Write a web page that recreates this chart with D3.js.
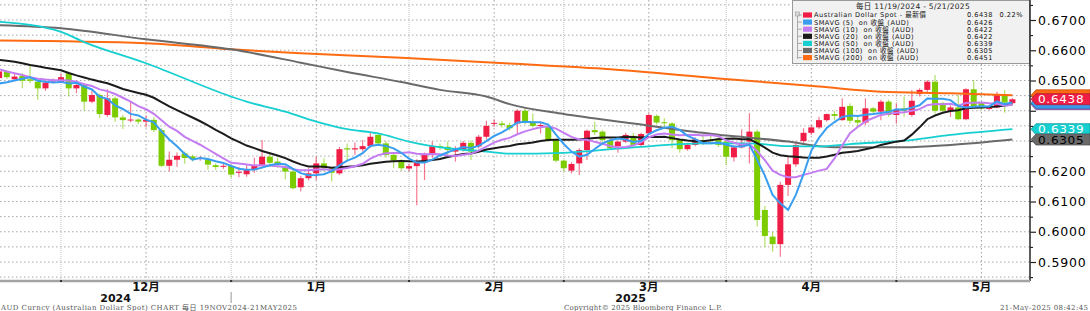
<html>
<head>
<script src="https://d3js.org/d3.v7.min.js"></script>
<style>
  body { margin: 0; background: #fff; }
  text { font-family: "DejaVu Sans", "Noto Sans CJK TC", sans-serif; }
  .foot { font-family: "DejaVu Serif", "Noto Sans CJK TC", serif; font-size: 7px; fill: #555; }
</style>
</head>
<body>
<svg id="chart" width="1090" height="311"></svg>
<script>
// daily candles, 19 Nov 2024 .. 21 May 2025 (weekdays)
const opens = [.6508,.6531,.6504,.6515,.6504,.6496,.6474,.6497,.6493,.6524,.6474,.6485,.6430,.6452,.6386,.6441,.6378,.6368,.6371,.6364,
  .6370,.6336,.6218,.6238,.6259,.6249,.6242,.6240,.6220,.6216,.6218,.6196,.6190,.6204,.6221,.6248,.6232,.6213,.6199,.6147,
  .6177,.6193,.6226,.6210,.6193,.6276,.6272,.6273,.6283,.6320,.6292,.6254,.6232,.6209,.6217,.6228,.6254,.6283,.6281,.6265,
  .6273,.6294,.6282,.6314,.6358,.6358,.6353,.6358,.6400,.6364,.6350,.6347,.6303,.6235,.6202,.6226,.6270,.6336,.6331,.6303,
  .6283,.6298,.6317,.6287,.6325,.6383,.6362,.6358,.6303,.6273,.6287,.6303,.6303,.6309,.6298,.6246,.6279,.6298,.6331,.6072,
  .5984,.5959,.6155,.6223,.6300,.6327,.6345,.6369,.6389,.6369,.6416,.6369,.6361,.6408,.6397,.6430,.6386,.6408,.6386,.6455,
  .6469,.6496,.6425,.6400,.6411,.6372,.6471,.6427,.6407,.6411,.6455,.6425];
const highs = [.6535,.6535,.6524,.6524,.6548,.6500,.6499,.6507,.6524,.6529,.6499,.6490,.6466,.6458,.6471,.6447,.6386,.6430,.6375,.6384,
  .6380,.6342,.6265,.6262,.6265,.6255,.6250,.6245,.6226,.6228,.6222,.6215,.6220,.6245,.6303,.6262,.6245,.6220,.6210,.6185,
  .6210,.6248,.6243,.6215,.6280,.6292,.6295,.6303,.6331,.6325,.6300,.6260,.6240,.6225,.6240,.6262,.6298,.6292,.6298,.6283,
  .6300,.6302,.6320,.6367,.6372,.6366,.6360,.6405,.6408,.6391,.6364,.6352,.6308,.6239,.6230,.6276,.6338,.6364,.6336,.6308,
  .6302,.6327,.6327,.6327,.6391,.6388,.6375,.6362,.6306,.6294,.6312,.6323,.6320,.6312,.6303,.6285,.6339,.6392,.6338,.6085,
  .6000,.6165,.6246,.6298,.6342,.6353,.6380,.6391,.6400,.6441,.6425,.6380,.6441,.6413,.6436,.6436,.6425,.6447,.6469,.6474,
  .6502,.6518,.6430,.6418,.6452,.6474,.6502,.6430,.6418,.6463,.6469,.6441];
const lows = [.6500,.6505,.6500,.6474,.6491,.6436,.6466,.6491,.6491,.6447,.6458,.6400,.6425,.6375,.6380,.6364,.6340,.6362,.6355,.6345,
  .6330,.6214,.6200,.6215,.6225,.6232,.6235,.6205,.6205,.6208,.6178,.6180,.6182,.6195,.6215,.6215,.6212,.6173,.6140,.6133,
  .6170,.6171,.6199,.6166,.6188,.6232,.6254,.6265,.6278,.6285,.6245,.6210,.6202,.6200,.6088,.6171,.6245,.6270,.6248,.6232,
  .6265,.6237,.6275,.6305,.6347,.6345,.6335,.6325,.6355,.6345,.6325,.6298,.6230,.6199,.6193,.6188,.6237,.6320,.6298,.6270,
  .6261,.6294,.6283,.6283,.6320,.6355,.6347,.6276,.6261,.6268,.6283,.6287,.6290,.6280,.6221,.6232,.6275,.6226,.6017,.5950,
  .5934,.5917,.6118,.6215,.6287,.6320,.6340,.6364,.6369,.6367,.6358,.6347,.6353,.6391,.6369,.6380,.6358,.6380,.6380,.6447,
  .6455,.6391,.6391,.6380,.6369,.6369,.6408,.6405,.6402,.6408,.6393,.6422];
const closes = [.6530,.6511,.6513,.6499,.6499,.6474,.6493,.6500,.6511,.6474,.6485,.6430,.6452,.6389,.6441,.6378,.6369,.6371,.6364,.6370,
  .6336,.6218,.6238,.6251,.6244,.6240,.6244,.6222,.6214,.6218,.6189,.6198,.6204,.6221,.6248,.6228,.6221,.6199,.6144,.6177,
  .6193,.6226,.6210,.6195,.6273,.6272,.6276,.6283,.6314,.6292,.6254,.6235,.6210,.6217,.6228,.6254,.6283,.6279,.6270,.6276,
  .6294,.6265,.6314,.6350,.6360,.6353,.6342,.6400,.6364,.6350,.6353,.6303,.6235,.6210,.6224,.6270,.6334,.6329,.6303,.6276,
  .6298,.6320,.6287,.6323,.6386,.6361,.6361,.6303,.6273,.6287,.6306,.6294,.6302,.6287,.6248,.6279,.6294,.6331,.6039,.5986,
  .5959,.6155,.6223,.6287,.6327,.6345,.6369,.6389,.6383,.6413,.6367,.6361,.6408,.6397,.6430,.6386,.6403,.6400,.6433,.6469,
  .6496,.6400,.6400,.6411,.6372,.6471,.6411,.6408,.6409,.6455,.6427,.6438];

// short averages before enough closes exist inside the window
const sma5Lead = [.6490,.6494,.6500,.6506];
const sma10Lead = [.6537,.6530,.6524,.6518,.6511,.6506,.6503,.6501,.6501];
const sma20Lead = [.6568,.6565,.6562,.6557,.6551,.6547,.6542,.6538,.6534,.6525,.6517,.6510,.6503,.6497,.6491,.6482,.6472,.6465,.6459];

// long averages, read at sample days
const sma50Days = [0,8,11,19,30,32,37,41,45,49,53,58,63,66,73,82,91,97,102,106,110,117,123,131];
const sma50Vals = [.6694,.6661,.6627,.6557,.6447,.6430,.6397,.6364,.6339,.6325,.6298,.6276,.6265,.6258,.6261,.6279,.6292,.6292,.6283,.6282,.6290,.6301,.6320,.6339];
const sma100Days = [0,8,19,30,39,45,52,57,63,66,73,82,91,93,97,102,106,110,117,123,131];
const sma100Vals = [.6683,.6673,.6636,.6603,.6559,.6528,.6495,.6469,.6447,.6422,.6389,.6358,.6327,.6321,.6311,.6298,.6283,.6279,.6279,.6287,.6305];
const sma200Days = [0,19,30,39,52,66,79,93,106,114,123,131];
const sma200Vals = [.6632,.6623,.6603,.6590,.6575,.6556,.6537,.6507,.6480,.6463,.6458,.6451];

const legendNames = ["Australian Dollar Spot - 最新價", "SMAVG (5)  on 收盤 (AUD)", "SMAVG (10)  on 收盤 (AUD)",
  "SMAVG (20)  on 收盤 (AUD)", "SMAVG (50)  on 收盤 (AUD)", "SMAVG (100)  on 收盤 (AUD)", "SMAVG (200)  on 收盤 (AUD)"];
const lastValues = [0.6438, 0.6426, 0.6422, 0.6422, 0.6339, 0.6305, 0.6451];
const spotChange = "0.22%";
const colors = ["#f01e46", "#3a9ef0", "#c47cf2", "#1b1b1b", "#16cfd1", "#6a6a6a", "#ff6b12"];
const downColor = "#7ccc00";

const svg = d3.select("#chart");
const plotRight = 1030, plotBottom = 281;

const days = d3.timeDay.range(new Date(2024, 10, 19), new Date(2025, 4, 22))
  .filter(d => d.getDay() !== 0 && d.getDay() !== 6);
const step = 7.735;
const x = d3.scaleLinear().domain([0, days.length - 1]).range([-0.9, -0.9 + (days.length - 1) * step]);
const y = d3.scaleLinear().domain([0.59, 0.67]).range([262, 20]);

// month ends and mid-month label days
let monthEnds = [];
days.forEach((d, i) => {
  if (i < days.length - 1 && days[i + 1].getMonth() !== d.getMonth()) monthEnds.push(i);
});
let monthMids = [];
d3.groups(days.map((d, i) => ({d, i})), o => o.d.getFullYear() * 12 + o.d.getMonth()).forEach(([k, arr]) => {
  if (arr[0].d.getDate() < 15) {
    let m = arr.find(o => o.d.getDate() >= 15);
    if (m) monthMids.push(m);
  }
});

const defs = svg.append("defs");
defs.append("clipPath").attr("id", "plot")
  .append("rect").attr("x", 0).attr("y", 0).attr("width", plotRight).attr("height", plotBottom);

// gridlines
const grid = svg.append("g");
const gridVals = d3.range(585, 680, 5).map(v => v / 1000);
grid.selectAll("line.h").data(gridVals).join("line")
  .attr("x1", 0).attr("x2", plotRight).attr("y1", d => y(d)).attr("y2", d => y(d))
  .attr("stroke", "#a8a8a8").attr("stroke-dasharray", "1.5,2.5");
grid.selectAll("line.me").data(monthEnds).join("line")
  .attr("x1", d => x(d)).attr("x2", d => x(d)).attr("y1", 0).attr("y2", plotBottom)
  .attr("stroke", "#c4c4c4").attr("stroke-dasharray", "1,1");
grid.selectAll("line.mm").data(monthMids).join("line")
  .attr("x1", d => x(d.i)).attr("x2", d => x(d.i)).attr("y1", 0).attr("y2", plotBottom)
  .attr("stroke", "#a0a0a0").attr("stroke-dasharray", "1.5,2.5");

// candles
const plot = svg.append("g").attr("clip-path", "url(#plot)");
const idx = d3.range(days.length);
const col = i => closes[i] >= opens[i] ? colors[0] : downColor;
plot.selectAll("line.wick").data(idx).join("line")
  .attr("x1", i => x(i)).attr("x2", i => x(i))
  .attr("y1", i => y(highs[i])).attr("y2", i => y(lows[i]))
  .attr("stroke", col).attr("stroke-opacity", 0.6).attr("stroke-width", 1.2);
plot.selectAll("rect.body").data(idx).join("rect")
  .attr("x", i => x(i) - 3).attr("width", 6)
  .attr("y", i => y(Math.max(opens[i], closes[i])))
  .attr("height", i => Math.max(1, Math.abs(y(opens[i]) - y(closes[i]))))
  .attr("fill", col);

// moving averages
function sma(n, lead) {
  return closes.map((c, i) => i < n - 1 ? lead[i] : d3.mean(closes.slice(i - n + 1, i + 1)));
}
const straight = d3.line().x((d, i) => x(i)).y(d => y(d));
const smooth = d3.line().x(d => x(d[0])).y(d => y(d[1])).curve(d3.curveMonotoneX);

plot.append("path").datum(d3.zip(sma200Days, sma200Vals)).attr("d", smooth)
  .attr("fill", "none").attr("stroke", colors[6]).attr("stroke-width", 2);
plot.append("path").datum(d3.zip(sma100Days, sma100Vals)).attr("d", smooth)
  .attr("fill", "none").attr("stroke", colors[5]).attr("stroke-width", 2);
plot.append("path").datum(d3.zip(sma50Days, sma50Vals)).attr("d", smooth)
  .attr("fill", "none").attr("stroke", colors[4]).attr("stroke-width", 1.8);
plot.append("path").datum(sma(20, sma20Lead)).attr("d", straight)
  .attr("fill", "none").attr("stroke", colors[3]).attr("stroke-width", 2);
plot.append("path").datum(sma(10, sma10Lead)).attr("d", straight)
  .attr("fill", "none").attr("stroke", colors[2]).attr("stroke-width", 2);
plot.append("path").datum(sma(5, sma5Lead)).attr("d", straight)
  .attr("fill", "none").attr("stroke", colors[1]).attr("stroke-width", 2);

// legend box
const lg = svg.append("g");
lg.append("rect").attr("x", 792.5).attr("y", 0.5).attr("width", 237).attr("height", 63)
  .attr("fill", "#f1f1f1").attr("stroke", "#9a9a9a");
lg.append("text").attr("x", 913).attr("y", 9).attr("text-anchor", "middle")
  .style("font-size", "7.5px").style("letter-spacing", "0.3px").attr("fill", "#222")
  .text("每日 11/19/2024 - 5/21/2025");
lg.append("line").attr("x1", 797.5).attr("x2", 797.5).attr("y1", 13).attr("y2", 59).attr("stroke", "#aaa");
lg.append("rect").attr("x", 795.5).attr("y", 12).attr("width", 4).attr("height", 4)
  .attr("fill", "#ddd").attr("stroke", "#999").attr("stroke-width", 0.6);
legendNames.forEach((name, k) => {
  const ry = 15 + k * 7.1;
  lg.append("line").attr("x1", 797.5).attr("x2", 802).attr("y1", ry).attr("y2", ry).attr("stroke", "#aaa");
  lg.append("rect").attr("x", 803).attr("y", ry - 2.6).attr("width", 9).attr("height", 5.2).attr("fill", colors[k]);
  lg.append("text").attr("x", 814).attr("y", ry + 2.4).style("font-size", "6.6px").style("letter-spacing", "0.5px")
    .style("white-space", "pre").attr("fill", "#111").text(name);
  lg.append("text").attr("x", 993).attr("y", ry + 2.4).attr("text-anchor", "end").style("font-size", "6.6px")
    .style("letter-spacing", "0.5px").attr("fill", "#111").text(lastValues[k].toFixed(4));
});
lg.append("text").attr("x", 1023).attr("y", 17.4).attr("text-anchor", "end").style("font-size", "6.6px")
  .style("letter-spacing", "0.5px").attr("fill", "#111").text(spotChange);

// right axis (labels sitting under a value tag are hidden, as in the source)
const tagged = [0.64, 0.63];
const yAxis = d3.axisRight(y).tickValues(d3.range(590, 671, 10).map(v => v / 1000))
  .tickFormat(d3.format(".4f")).tickSize(6).tickPadding(2);
const yMinor = d3.axisRight(y).tickValues(d3.range(585, 680, 10).map(v => v / 1000))
  .tickFormat("").tickSize(3);
const ax = svg.append("g").attr("transform", `translate(${plotRight},0)`).call(yAxis);
svg.append("g").attr("transform", `translate(${plotRight},0)`).call(yMinor).select(".domain").remove();
ax.select(".domain").remove();
ax.selectAll("line").attr("stroke", "#222").attr("stroke-width", 1.2);
ax.selectAll("text").style("font-size", "12.5px").style("letter-spacing", "0.8px").attr("fill", "#000")
  .filter(d => tagged.some(t => Math.abs(d - t) < 1e-6)).remove();
svg.append("line").attr("x1", plotRight).attr("x2", plotRight).attr("y1", 0).attr("y2", plotBottom)
  .attr("stroke", "#333").attr("stroke-width", 1.6);

// bottom axis
svg.append("line").attr("x1", 0).attr("x2", plotRight).attr("y1", plotBottom).attr("y2", plotBottom)
  .attr("stroke", "#a3a3a3").attr("stroke-width", 2.4);
svg.selectAll("rect.tk").data(monthEnds).join("rect")
  .attr("x", d => x(d) - 1).attr("y", plotBottom - 1).attr("width", 2).attr("height", 2).attr("fill", "#333");
svg.selectAll("text.month").data(monthMids).join("text")
  .attr("x", d => x(d.i)).attr("y", 291).attr("text-anchor", "middle")
  .style("font-size", "11.5px").style("font-weight", "bold").attr("fill", "#111")
  .text(d => (d.d.getMonth() + 1) + "月");
const yearSplit = monthEnds.find(i => days[i].getMonth() === 11);
svg.append("line").attr("x1", x(yearSplit)).attr("x2", x(yearSplit)).attr("y1", 292).attr("y2", 303)
  .attr("stroke", "#999");
const years = [[2024, 0, x(yearSplit)], [2025, x(yearSplit), plotRight]];
svg.selectAll("text.year").data(years).join("text")
  .attr("x", d => (d[1] + d[2]) / 2).attr("y", 302).attr("text-anchor", "middle")
  .style("font-size", "11px").style("font-weight", "bold").attr("fill", "#111").text(d => d[0]);

// value tags on the right; the 0.6438 tag hides the ones under it
const spotY = y(lastValues[0]);
defs.append("clipPath").attr("id", "aboveSpot")
  .append("rect").attr("x", plotRight).attr("y", 0).attr("width", 60).attr("height", spotY - 6);
const tagOrder = [6, 3, 2, 1, 0, 4, 5];
const tagText = ["#fff", "#fff", "#fff", "#fff", "#fff", "#000", "#fff"];
const tagNudge = {0: 0, 4: -0.6, 5: 0.6, 6: 0};
tagOrder.forEach(k => {
  const ty = y(lastValues[k]);
  const g = svg.append("g");
  g.append("path")
    .attr("d", `M${plotRight + 1},${ty} L${plotRight + 6},${ty - 5.5} L1090,${ty - 5.5} L1090,${ty + 5.5} L${plotRight + 6},${ty + 5.5} Z`)
    .attr("fill", colors[k]).attr("stroke", d3.color(colors[k]).darker(0.8)).attr("stroke-width", 0.8);
  if (k in tagNudge) {
    const t = g.append("text")
      .attr("transform", `translate(${plotRight + 8},${ty + 3.9 + tagNudge[k]}) scale(1.15,1)`)
      .style("font-size", "10.5px").style("letter-spacing", "0.6px").attr("fill", tagText[k])
      .text(lastValues[k].toFixed(4));
    if (k === 6) t.attr("clip-path", "url(#aboveSpot)");
  }
});

// footer
svg.append("text").attr("class", "foot").attr("x", 1).attr("y", 309.5).attr("textLength", 296)
  .text("AUD Curncy (Australian Dollar Spot) CHART  每日 19NOV2024-21MAY2025");
svg.append("text").attr("class", "foot").attr("x", 564).attr("y", 309.5).attr("textLength", 158)
  .text("Copyright© 2025 Bloomberg Finance L.P.");
svg.append("text").attr("class", "foot").attr("x", 1000).attr("y", 309.5).attr("textLength", 88)
  .text("21-May-2025 08:42:45");
</script>
</body>
</html>
